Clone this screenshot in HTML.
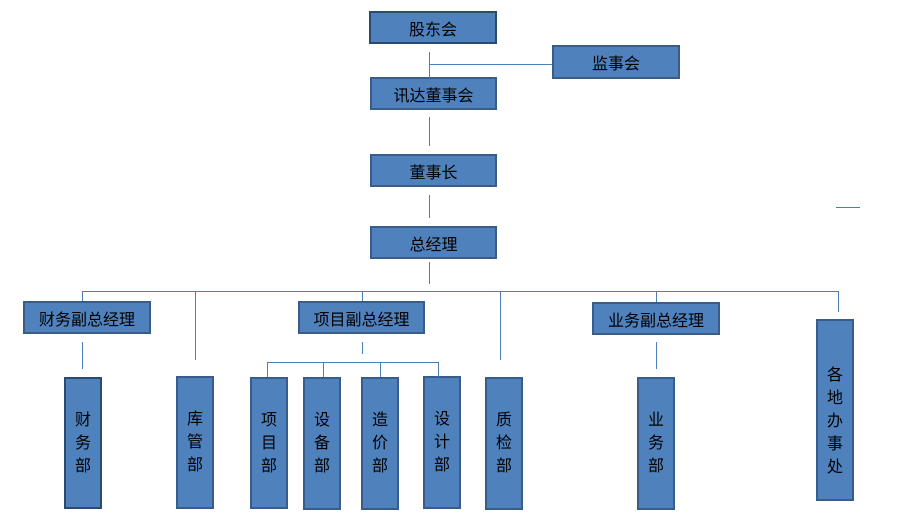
<!DOCTYPE html>
<html><head><meta charset="utf-8"><style>
body{margin:0;width:920px;height:527px;background:#fff;position:relative;overflow:hidden;font-family:"Liberation Sans","Noto Sans CJK SC",sans-serif;}
.b{position:absolute;box-sizing:border-box;background:#4f81bd;border:2px solid #385d8a;display:flex;align-items:center;justify-content:center;font-size:16px;color:#000;}
.v{line-height:23px;text-align:center;padding:0 2px;}
.l{position:absolute;background:#4a7ebb;}
</style></head><body>
<div class="b" style="left:369px;top:11px;width:128px;height:33px;border-color:#2b4a70">股东会</div>
<div class="b" style="left:552px;top:45px;width:128px;height:34px">监事会</div>
<div class="b" style="left:370px;top:77px;width:127px;height:33px">讯达董事会</div>
<div class="b" style="left:370px;top:154px;width:127px;height:33px">董事长</div>
<div class="b" style="left:370px;top:226px;width:127px;height:33px">总经理</div>
<div class="b" style="left:23px;top:301px;width:128px;height:33px">财务副总经理</div>
<div class="b" style="left:298px;top:301px;width:127px;height:33px">项目副总经理</div>
<div class="b" style="left:592px;top:302px;width:128px;height:33px">业务副总经理</div>

<div class="b v" style="left:64px;top:377px;width:38px;height:132px;border-color:#2b4a70">财<br>务<br>部</div>
<div class="b v" style="left:176px;top:376px;width:38px;height:133px">库<br>管<br>部</div>
<div class="b v" style="left:250px;top:377px;width:38px;height:132px">项<br>目<br>部</div>
<div class="b v" style="left:303px;top:377px;width:38px;height:133px">设<br>备<br>部</div>
<div class="b v" style="left:361px;top:377px;width:38px;height:133px">造<br>价<br>部</div>
<div class="b v" style="left:423px;top:376px;width:38px;height:133px">设<br>计<br>部</div>
<div class="b v" style="left:485px;top:377px;width:38px;height:133px">质<br>检<br>部</div>
<div class="b v" style="left:637px;top:377px;width:38px;height:133px">业<br>务<br>部</div>
<div class="b v" style="left:816px;top:319px;width:38px;height:182px;padding-top:22px">各<br>地<br>办<br>事<br>处</div>

<div class="l" style="left:429px;top:52px;width:1px;height:26px"></div>
<div class="l" style="left:429px;top:64px;width:123px;height:1px"></div>
<div class="l" style="left:429px;top:117px;width:1px;height:29px"></div>
<div class="l" style="left:429px;top:195px;width:1px;height:23px"></div>
<div class="l" style="left:429px;top:262px;width:1px;height:22px"></div>
<div class="l" style="left:82px;top:291px;width:757px;height:1px"></div>
<div class="l" style="left:82px;top:291px;width:1px;height:10px"></div>
<div class="l" style="left:195px;top:291px;width:1px;height:69px"></div>
<div class="l" style="left:362px;top:291px;width:1px;height:10px"></div>
<div class="l" style="left:500px;top:291px;width:1px;height:69px"></div>
<div class="l" style="left:656px;top:291px;width:1px;height:11px"></div>
<div class="l" style="left:838px;top:291px;width:1px;height:21px"></div>
<div class="l" style="left:82px;top:342px;width:1px;height:27px"></div>
<div class="l" style="left:362px;top:342px;width:1px;height:12px"></div>
<div class="l" style="left:656px;top:342px;width:1px;height:27px"></div>
<div class="l" style="left:267px;top:362px;width:172px;height:1px"></div>
<div class="l" style="left:267px;top:362px;width:1px;height:15px"></div>
<div class="l" style="left:323px;top:362px;width:1px;height:15px"></div>
<div class="l" style="left:380px;top:362px;width:1px;height:15px"></div>
<div class="l" style="left:438px;top:362px;width:1px;height:15px"></div>
<div class="l" style="left:836px;top:207px;width:24px;height:1px"></div>
</body></html>
